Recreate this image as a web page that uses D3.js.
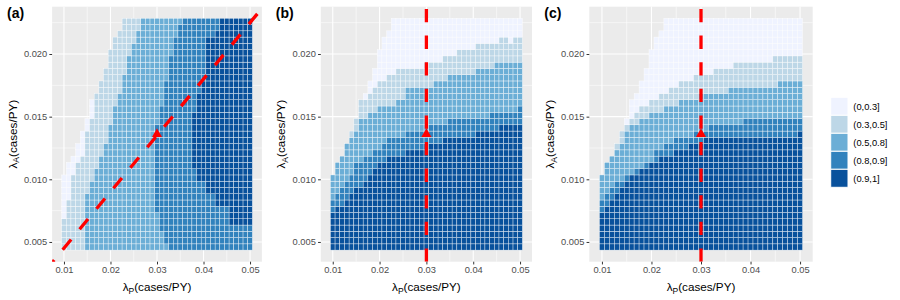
<!DOCTYPE html>
<html><head><meta charset="utf-8">
<script src="https://cdn.jsdelivr.net/npm/d3@7"></script>
<style>
body{margin:0;background:#fff}
svg{display:block}
text{font-family:"Liberation Sans",Arial,Helvetica,sans-serif}
</style>
</head><body>
<svg id="chart" width="900" height="300"></svg>
<script>
// ---------------- data ----------------
const lambdaP = [0.010,0.011,0.012,0.013,0.014,0.015,0.016,0.017,0.018,0.019,
  0.020,0.021,0.022,0.023,0.024,0.025,0.026,0.027,0.028,0.029,
  0.030,0.031,0.032,0.033,0.034,0.035,0.036,0.037,0.038,0.039,
  0.040,0.041,0.042,0.043,0.044,0.045,0.046,0.047,0.048,0.049,0.050];
const lambdaA = [0.0046,0.0051,0.0056,0.0061,0.0066,0.0071,0.0076,0.0081,0.0086,0.0091,
  0.0096,0.0101,0.0106,0.0111,0.0116,0.0121,0.0126,0.0131,0.0136,0.0141,
  0.0146,0.0151,0.0156,0.0161,0.0166,0.0171,0.0176,0.0181,0.0186,0.0191,
  0.0196,0.0201,0.0206,0.0211,0.0216,0.0221,0.0226];
const categories = ["(0,0.3]","(0.3,0.5]","(0.5,0.8]","(0.8,0.9]","(0.9,1]"];
const colors = ["#eff3ff","#bdd7e7","#6baed6","#3182bd","#08519c"];
const xTicks = [0.01,0.02,0.03,0.04,0.05];
const yTicks = [0.005,0.010,0.015,0.020];
const tags = ["(a)","(b)","(c)"];

// first lambdaP index present in each lambdaA row (bottom to top)
const rowStart = [0,0,0,0,0,0,0,0,0,0,0,0,1,1,2,3,3,4,4,5,5,6,6,6,7,8,8,9,9,10,10,10,11,11,12,13,13];

// panel (a): per lambdaA row, index where each class begins
const aStart2 = [0,0,0,0,0,1,1,1,2,2,2,2,3,3,4,5,5,5,5,6,6,7,7,7,7,8,8,9,9,10,10,10,11,11,12,13,13];
const aStart3 = [5,5,5,5,5,5,5,5,5,6,6,7,7,8,8,9,9,10,10,10,11,11,11,12,12,13,13,13,14,14,14,15,15,16,16,17,17];
const aStart4 = [23,22,22,21,21,21,20,20,20,20,20,20,20,20,20,20,20,20,20,20,21,21,21,22,22,22,22,23,23,23,23,24,24,24,25,25,26];
const aStart5 = [41,41,41,41,36,36,36,33,33,31,31,29,29,28,28,28,28,28,28,28,28,28,29,29,29,30,30,31,31,31,31,31,31,31,33,34,34];

// panels (b),(c): per lambdaP column, lambdaA row index where each lighter class begins
const bTop4 = [6,7,7,8,9,10,10,11,12,13,14,14,15,15,15,15,16,16,16,16,17,17,17,17,18,18,18,18,18,18,18,19,19,19,19,19,20,20,20,20,20];
const bTop3 = [8,9,10,11,12,14,14,15,15,16,16,17,18,18,18,18,19,19,19,19,19,20,20,20,20,21,21,21,21,21,21,21,21,21,22,22,22,22,22,22,23];
const bTop2 = [99,99,99,99,18,19,21,21,22,22,23,23,23,23,24,24,26,26,26,26,26,26,27,27,27,28,28,28,28,28,28,29,29,29,29,30,30,30,30,30,30];
const bTop1 = [99,99,99,99,99,99,99,24,25,26,27,27,28,28,29,29,29,29,29,29,30,30,30,30,31,31,31,32,32,32,32,33,33,33,33,33,34,34,33,34,34];

const cTop4 = [6,7,8,9,10,11,12,12,13,13,14,14,15,15,15,16,16,16,17,17,17,18,18,18,18,18,18,18,18,18,18,18,18,18,18,18,18,18,18,18,19];
const cTop3 = [8,9,10,11,11,12,12,13,13,14,14,16,16,17,17,18,18,18,18,19,19,19,20,20,20,20,20,20,20,21,21,21,21,21,21,21,21,21,21,21,21];
const cTop2 = [99,99,99,16,17,19,20,20,21,21,22,22,22,23,23,23,24,24,24,24,25,25,25,25,25,25,26,26,26,26,26,26,26,26,26,26,27,27,27,27,27];
const cTop1 = [99,99,99,99,99,20,21,22,23,23,24,24,25,25,26,26,27,27,27,28,28,28,28,29,29,29,29,30,30,30,30,30,30,30,30,31,31,31,31,31,31];

const refSlope = 0.45;            // panel (a) dashed reference line lambdaA = 0.45 * lambdaP
const refPoint = [0.030, 0.0135]; // triangle marker
const refP = 0.030;               // vertical reference in (b),(c)

// ---------------- build cells ----------------
function cellsRowwise(s2,s3,s4,s5){
  const out=[];
  lambdaA.forEach((a,k)=>{
    lambdaP.forEach((p,c)=>{
      if(c<rowStart[k]) return;
      const cat = c<s2[k]?0 : c<s3[k]?1 : c<s4[k]?2 : c<s5[k]?3 : 4;
      out.push({p,a,cat});
    });
  });
  return out;
}
function cellsColwise(t4,t3,t2,t1){
  const out=[];
  lambdaA.forEach((a,k)=>{
    lambdaP.forEach((p,c)=>{
      if(c<rowStart[k]) return;
      const cat = k<t4[c]?4 : k<t3[c]?3 : k<t2[c]?2 : k<t1[c]?1 : 0;
      out.push({p,a,cat});
    });
  });
  return out;
}
const panelCells = [
  cellsRowwise(aStart2,aStart3,aStart4,aStart5),
  cellsColwise(bTop4,bTop3,bTop2,bTop1),
  cellsColwise(cTop4,cTop3,cTop2,cTop1)
];

// ---------------- layout ----------------
const svg = d3.select("#chart");
const panelX = [[52.1,261.9],[320.8,532.0],[589.3,812.7]];
const panelTop = 6.7, panelBottom = 261.7;
const dP = 0.001, dA = 0.0005;
function expand(lo,hi){const m=(hi-lo)*0.05;return [lo-m,hi+m];}
const xDom = expand(d3.min(lambdaP)-dP/2, d3.max(lambdaP)+dP/2);
const yDom = expand(d3.min(lambdaA)-dA/2, d3.max(lambdaA)+dA/2);
const y = d3.scaleLinear().domain(yDom).range([panelBottom,panelTop]);
const color = d3.scaleOrdinal().domain(d3.range(5)).range(colors);

function subLabel(sel, sub){
  sel.append("tspan").text("λ");
  sel.append("tspan").attr("font-size","8.5px").attr("dy","2.8").text(sub);
  sel.append("tspan").attr("dy","-2.8").text("(cases/PY)");
}

panelCells.forEach((cells,i)=>{
  const [x0,x1]=panelX[i];
  const x = d3.scaleLinear().domain(xDom).range([x0,x1]);
  const g = svg.append("g");
  const clipId="clip"+i;
  svg.append("clipPath").attr("id",clipId).append("rect")
    .attr("x",x0).attr("y",panelTop).attr("width",x1-x0).attr("height",panelBottom-panelTop);
  g.append("rect").attr("x",x0).attr("y",panelTop).attr("width",x1-x0)
    .attr("height",panelBottom-panelTop).attr("fill","#ebebeb");
  // grid
  const minorX=[0.015,0.025,0.035,0.045], minorY=[0.0075,0.0125,0.0175,0.0225];
  g.selectAll(".mx").data(minorX).join("line").attr("x1",d=>x(d)).attr("x2",d=>x(d))
    .attr("y1",panelTop).attr("y2",panelBottom).attr("stroke","#fff").attr("stroke-width",0.55);
  g.selectAll(".my").data(minorY).join("line").attr("y1",d=>y(d)).attr("y2",d=>y(d))
    .attr("x1",x0).attr("x2",x1).attr("stroke","#fff").attr("stroke-width",0.55);
  g.selectAll(".gx").data(xTicks).join("line").attr("x1",d=>x(d)).attr("x2",d=>x(d))
    .attr("y1",panelTop).attr("y2",panelBottom).attr("stroke","#fff").attr("stroke-width",1.1);
  g.selectAll(".gy").data(yTicks).join("line").attr("y1",d=>y(d)).attr("y2",d=>y(d))
    .attr("x1",x0).attr("x2",x1).attr("stroke","#fff").attr("stroke-width",1.1);
  // tiles
  g.append("g").selectAll("rect").data(cells).join("rect")
    .attr("x",d=>x(d.p-dP/2)).attr("y",d=>y(d.a+dA/2))
    .attr("width",d=>x(d.p+dP/2)-x(d.p-dP/2)).attr("height",d=>y(d.a-dA/2)-y(d.a+dA/2))
    .attr("fill",d=>color(d.cat)).attr("stroke","#fff").attr("stroke-width",0.45).attr("stroke-opacity",0.85);
  // reference lines
  const ref = g.append("g").attr("clip-path",`url(#${clipId})`);
  if(i===0){
    ref.append("line").attr("x1",x(xDom[0])).attr("y1",y(refSlope*xDom[0]))
      .attr("x2",x(xDom[1])).attr("y2",y(refSlope*xDom[1]))
      .attr("stroke","#ff0000").attr("stroke-width",3.3)
      .attr("stroke-dasharray","13.3 13.3").attr("stroke-dashoffset",10);
  } else {
    ref.append("line").attr("x1",x(refP)).attr("x2",x(refP))
      .attr("y1",panelBottom).attr("y2",panelTop)
      .attr("stroke","#ff0000").attr("stroke-width",3.3)
      .attr("stroke-dasharray","13.3 13.3");
  }
  const tx=x(refPoint[0]), ty=y(refPoint[1])-1.4, r=5.8;
  ref.append("path").attr("d",`M${tx},${ty-r}L${tx+0.866*r},${ty+r/2}L${tx-0.866*r},${ty+r/2}Z`)
    .attr("fill","#ff0000");
  // axes
  const ax = g.append("g").attr("transform",`translate(0,${panelBottom})`)
    .call(d3.axisBottom(x).tickValues(xTicks).tickFormat(d3.format(".2f")).tickSize(2.75).tickPadding(2.2));
  const ay = g.append("g").attr("transform",`translate(${x0},0)`)
    .call(d3.axisLeft(y).tickValues(yTicks).tickFormat(d3.format(".3f")).tickSize(2.75).tickPadding(2.2));
  [ax,ay].forEach(a=>{
    a.select(".domain").remove();
    a.selectAll("line").attr("stroke","#333333").attr("stroke-width",1);
    a.selectAll("text").attr("fill","#4d4d4d").attr("font-size","9.3px")
      .attr("font-family","'Liberation Sans',Arial,sans-serif");
  });
  // titles
  const xt = g.append("text").attr("x",(x0+x1)/2).attr("y",291).attr("text-anchor","middle")
    .attr("font-size","11.7px").attr("fill","#000");
  subLabel(xt,"P");
  const yt = g.append("text").attr("transform",`translate(${x0-35.5},${(panelTop+panelBottom)/2}) rotate(-90)`)
    .attr("text-anchor","middle").attr("font-size","11.7px").attr("fill","#000");
  subLabel(yt,"A");
  g.append("text").attr("x",x0-45).attr("y",18).attr("font-size","14px").attr("font-weight","bold")
    .attr("fill","#000").text(tags[i]);
});

// legend
const lg = svg.append("g");
categories.forEach((c,i)=>{
  const ky = 97.3 + i*18;
  lg.append("rect").attr("x",830.7).attr("y",ky).attr("width",17.3).attr("height",18)
    .attr("fill",colors[i]).attr("stroke","#fff").attr("stroke-width",1);
  lg.append("text").attr("x",853.3).attr("y",ky+9+3.3).attr("font-size","9.3px").attr("fill","#000").text(c);
});
</script>
</body></html>
